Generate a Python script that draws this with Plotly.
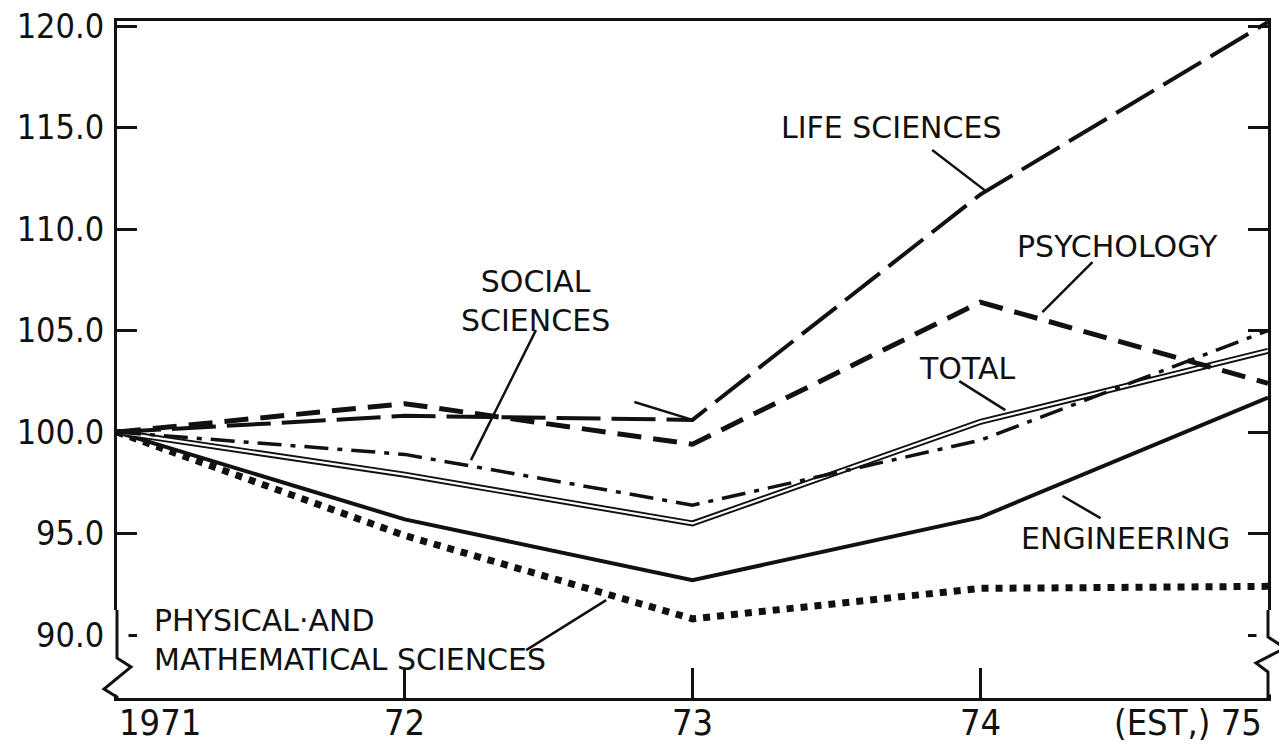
import plotly.graph_objects as go

years = [1971, 1972, 1973, 1974, 1975]
life_sciences = [100.0, 100.8, 100.6, 111.7, 120.2]
psychology = [100.0, 101.4, 99.4, 106.4, 102.4]
social_sciences = [100.0, 98.9, 96.4, 99.6, 105.0]
total = [100.0, 97.9, 95.5, 100.5, 104.0]
engineering = [100.0, 95.7, 92.7, 95.8, 101.7]
physical_math = [100.0, 94.9, 90.8, 92.3, 92.4]

y_ticks = [90, 95, 100, 105, 110, 115, 120]
y_tick_text = ["90.0", "95.0", "100.0", "105.0", "110.0", "115.0", "120.0"]
x_tick_text = ["1971", "72", "73", "74", "(EST,) 75"]

BLACK = "#111111"
TICKFONT = dict(family="DejaVu Sans Condensed, Liberation Sans Narrow, DejaVu Sans, sans-serif", size=34, color=BLACK)
XTICKFONT = dict(family="DejaVu Sans Condensed, Liberation Sans Narrow, DejaVu Sans, sans-serif", size=36, color=BLACK)
LABFONT = dict(family="DejaVu Sans, sans-serif", size=30, color=BLACK)

fig = go.Figure()
fig.add_trace(go.Scatter(x=years, y=physical_math, mode="lines",
                         line=dict(color=BLACK, width=7, dash="7px,7px"), name="Physical and mathematical sciences"))
fig.add_trace(go.Scatter(x=years, y=engineering, mode="lines",
                         line=dict(color=BLACK, width=4), name="Engineering"))
fig.add_trace(go.Scatter(x=years, y=total, mode="lines",
                         line=dict(color=BLACK, width=6), name="Total"))
fig.add_trace(go.Scatter(x=years, y=total, mode="lines",
                         line=dict(color="white", width=2.2), showlegend=False, hoverinfo="skip"))
fig.add_trace(go.Scatter(x=years, y=social_sciences, mode="lines",
                         line=dict(color=BLACK, width=3.5, dash="24px,9px,5px,9px"), name="Social sciences"))
fig.add_trace(go.Scatter(x=years, y=psychology, mode="lines",
                         line=dict(color=BLACK, width=5, dash="24px,12px"), name="Psychology"))
fig.add_trace(go.Scatter(x=years, y=life_sciences, mode="lines",
                         line=dict(color=BLACK, width=4, dash="44px,11px"), name="Life sciences"))

# labels and leader lines
labels = [
    ("LIFE SCIENCES", 1973.693, 114.98, "center"),
    ("PSYCHOLOGY", 1974.477, 109.16, "center"),
    ("SOCIAL<br>SCIENCES", 1972.456, 106.45, "center"),
    ("TOTAL", 1973.955, 103.15, "center"),
    ("ENGINEERING", 1974.505, 94.78, "center"),
]
for txt, x, y, xa in labels:
    fig.add_annotation(x=x, y=y, text=txt, showarrow=False, font=LABFONT, xanchor=xa, yanchor="middle", align="center")
fig.add_annotation(x=1971.122, y=89.75, text="PHYSICAL·AND<br>MATHEMATICAL SCIENCES", showarrow=False,
                   font=LABFONT, xanchor="left", yanchor="middle", align="left")

leaders = [
    (1973.833, 113.89, 1974.024, 111.82),
    (1974.390, 108.37, 1974.216, 105.91),
    (1972.456, 105.02, 1972.230, 98.62),
    (1973.927, 102.51, 1974.087, 101.08),
    (1974.286, 96.85, 1974.418, 95.76),
    (1972.422, 89.26, 1972.700, 91.72),
    (1972.798, 101.48, 1973.0, 100.6),
]
for x0, y0, x1, y1 in leaders:
    fig.add_shape(type="line", x0=x0, y0=y0, x1=x1, y1=y1, xref="x", yref="y",
                  line=dict(color=BLACK, width=2.5))

# x tick labels
for i, (yr, t) in enumerate(zip(years, x_tick_text)):
    if i == 0:
        xa, xs = "left", 0
    elif i == len(years) - 1:
        xa, xs = "right", -4
    else:
        xa, xs = "center", 0
    fig.add_annotation(x=yr, y=0, xref="x", yref="paper", text=t, showarrow=False,
                       font=XTICKFONT, xanchor=xa, yanchor="top", xshift=xs, yshift=-2)

# page offset (body margin) compensation
OFF = 8
W, H = 1287 - OFF, 749 - OFF
L, R, T, B = 117 - OFF, 1268 - OFF, 21 - OFF, 698 - OFF

# axis breaks (zigzags)
fig.add_shape(type="rect", xref="paper", yref="paper", x0=-0.01, x1=0.01, y0=0.005, y1=0.13,
              line=dict(width=0), fillcolor="white", layer="above")
fig.add_shape(type="rect", xref="paper", yref="paper", x0=0.99, x1=1.01, y0=0.005, y1=0.13,
              line=dict(width=0), fillcolor="white", layer="above")

def px(xp, yp):
    xp -= OFF
    yp -= OFF
    return (xp - L) / (R - L), (B - yp) / (B - T)

def path(points):
    s = ""
    for i, (a, b) in enumerate(points):
        u, v = px(a, b)
        s += ("M" if i == 0 else "L") + f"{u:.5f},{v:.5f} "
    return s

fig.add_shape(type="path", xref="paper", yref="paper", layer="above",
              path=path([(117, 610), (117, 658), (131, 667), (104, 689), (117, 697), (117, 699)]),
              line=dict(color=BLACK, width=3))
fig.add_shape(type="path", xref="paper", yref="paper", layer="above",
              path=path([(1268, 610), (1268, 637), (1285, 648), (1256, 663), (1268, 672), (1268, 699)]),
              line=dict(color=BLACK, width=3))

fig.update_layout(
    width=W, height=H,
    margin=dict(l=L, r=W - R, t=T, b=H - B),
    paper_bgcolor="white", plot_bgcolor="white",
    showlegend=False,
    xaxis=dict(range=[1971, 1975], tickvals=years[1:-1], showticklabels=False,
               ticks="inside", ticklen=30, tickwidth=2.5, tickcolor=BLACK,
               showline=True, linecolor=BLACK, linewidth=3, mirror=True,
               showgrid=False, zeroline=False, fixedrange=True, automargin=False),
    yaxis=dict(range=[86.9, 120.25], tickvals=y_ticks, ticktext=y_tick_text,
               ticks="inside", ticklen=20, tickwidth=3, tickcolor=BLACK,
               showline=True, linecolor=BLACK, linewidth=3, mirror="ticks",
               showgrid=False, zeroline=False, tickfont=TICKFONT, ticklabelstandoff=3,
               ticklabeloverflow="allow", fixedrange=True, automargin=False),
)

fig.write_html("out.html")
